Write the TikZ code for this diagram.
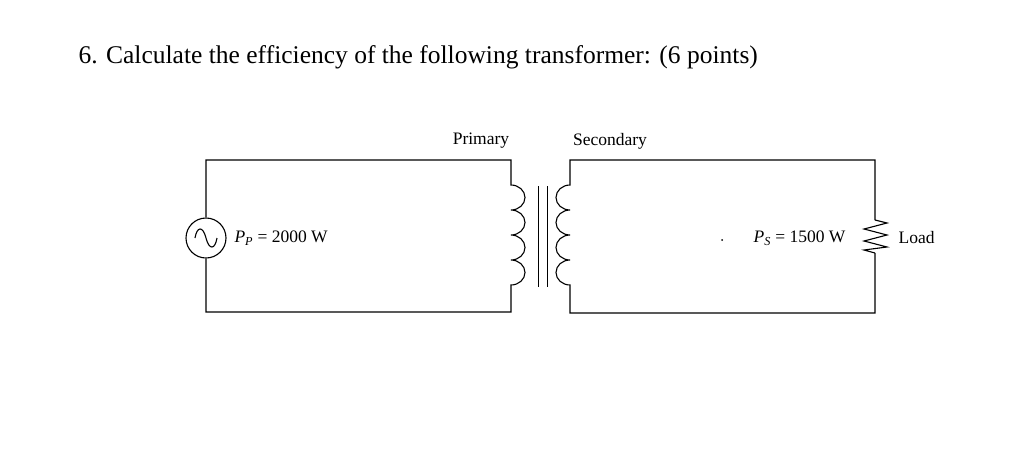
\documentclass[tikz,border=0pt]{standalone}
\usepackage{fontspec}
\setmainfont{Liberation Serif}
\begin{document}
\begin{tikzpicture}[x=1pt,y=-1pt,line width=1.1pt,
  lbl/.style={inner sep=0pt,font=\fontsize{17.5}{20}\selectfont},
  wire/.style={draw,line width=1.1pt}]
\useasboundingbox (0,0) rectangle (1033,469);
\node[anchor=west,inner sep=0pt,font=\fontsize{25.5}{28}\selectfont] (title) at (78,57) {6. Calculate the efficiency of the following transformer: (6 points)};
\node[lbl] (prim) at (481,141) {Primary};
\node[lbl] (sec) at (610,141) {Secondary};
% source
\node[draw,circle,minimum size=40pt,inner sep=0pt] (src) at (206,238) {};
\draw (195,238) .. controls (197,226) and (203,226) .. (206,238) .. controls (209,250) and (215,250) .. (217,238);
\node[lbl,anchor=west] (pp) at (234,238) {\textit{P}\textsubscript{\textit{P}} = 2000 W};
% primary circuit
\coordinate (ptop) at (511,160);
\coordinate (pbot) at (511,312);
\draw[wire] (src.north) |- (ptop) -- (511,185)
  arc[start angle=-90,end angle=90,x radius=14,y radius=12.5]
  arc[start angle=-90,end angle=90,x radius=14,y radius=12.5]
  arc[start angle=-90,end angle=90,x radius=14,y radius=12.5]
  arc[start angle=-90,end angle=90,x radius=14,y radius=12.5] -- (pbot) -| (src.south);
% core
\draw[line width=1pt] (538,186) -- (538,287);
\draw[line width=1pt] (547,186) -- (547,287);
% secondary
\coordinate (stop) at (570,160);
\coordinate (sbot) at (570,313);
\coordinate (rtop) at (875,220);
\coordinate (rbot) at (875,253);
\draw[wire] (rtop) -- (875,160) -- (stop) -- (570,185)
  arc[start angle=-90,end angle=-270,x radius=14,y radius=12.5]
  arc[start angle=-90,end angle=-270,x radius=14,y radius=12.5]
  arc[start angle=-90,end angle=-270,x radius=14,y radius=12.5]
  arc[start angle=-90,end angle=-270,x radius=14,y radius=12.5] -- (sbot) -- (875,313) -- (rbot);
\draw[wire,line join=miter] (rtop) -- (887,223) -- (864,229) -- (887,235) -- (864,241) -- (887,247) -- (864,250) -- (rbot);
\node[lbl,anchor=west] (load) at (898,238) {Load};
\node[lbl,anchor=east] (ps) at (846,238) {\textit{P}\textsubscript{\textit{S}} = 1500 W};
\fill (722,240) circle (1pt);
\end{tikzpicture}
\end{document}
